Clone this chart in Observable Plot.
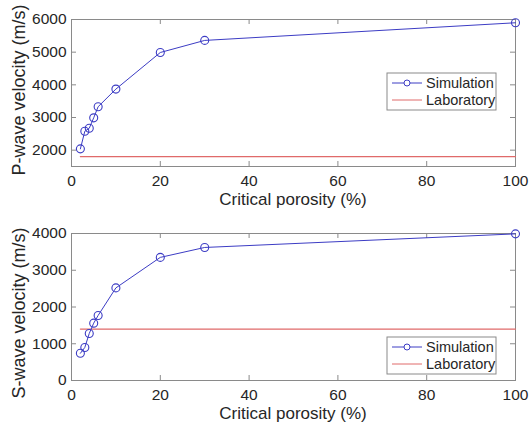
<!DOCTYPE html>
<html>
<head>
<meta charset="utf-8">
<script src="https://cdn.jsdelivr.net/npm/d3@7"></script>
<script src="https://cdn.jsdelivr.net/npm/@observablehq/plot@0.6"></script>
<style>
  html, body { margin: 0; padding: 0; background: #fff; }
  #chart { position: relative; width: 531px; height: 424px; font-family: "Liberation Sans", Arial, sans-serif; }
  #chart svg { position: absolute; left: 0; }
</style>
</head>
<body>
<div id="chart"></div>
<script>
// Data
const porosity = [2, 3, 4, 5, 6, 10, 20, 30, 100];
const pVelocitySim = [2040, 2580, 2670, 2990, 3330, 3870, 4990, 5360, 5900];
const pVelocityLab = 1800;
const sVelocitySim = [740, 900, 1280, 1560, 1770, 2520, 3350, 3620, 3990];
const sVelocityLab = 1400;
const xTicks = [0, 20, 40, 60, 80, 100];
const pTicks = [2000, 3000, 4000, 5000, 6000];
const sTicks = [0, 1000, 2000, 3000, 4000];
const legendLabels = ["Simulation", "Laboratory"];

const blue = "#3c3cc4";
const red = "#e06a6a";
const frameColor = "#8a8a8a";
const textColor = "#262626";

function panel({sim, lab, yDomain, yTicks, yLabel, top, marginTop, marginBottom, legendY, yLabelCenter}) {
  const W = 531, H = 212;
  const mL = 71, mR = 16;
  const plotH = H - marginTop - marginBottom;
  const plotW = W - mL - mR;
  const rows = porosity.map((x, i) => ({x, y: sim[i]}));
  const labRows = [{x: porosity[0], y: lab}, {x: 100, y: lab}];
  const svg = Plot.plot({
    width: W, height: H,
    marginLeft: mL, marginRight: mR, marginTop, marginBottom,
    style: {fontFamily: '"Liberation Sans", Arial, sans-serif', color: textColor, background: "#fff"},
    x: {domain: [0, 100]},
    y: {domain: yDomain},
    marks: [
      // tick labels
      Plot.axisX(xTicks, {tickSize: 0, tickPadding: 8, fontSize: 15.5, fill: textColor, label: null, tickFormat: d3.format("d")}),
      Plot.axisY(yTicks, {tickSize: 0, tickPadding: 5, fontSize: 15.5, fill: textColor, label: null, tickFormat: d3.format("d")}),
      // inward ticks
      Plot.tickX(xTicks, {x: d => d, insetTop: plotH - 5, stroke: frameColor}),
      Plot.tickX(xTicks, {x: d => d, insetBottom: plotH - 5, stroke: frameColor}),
      Plot.tickY(yTicks, {y: d => d, insetRight: plotW - 5, stroke: frameColor}),
      Plot.tickY(yTicks, {y: d => d, insetLeft: plotW - 5, stroke: frameColor}),
      Plot.frame({stroke: frameColor}),
      Plot.line(labRows, {x: "x", y: "y", stroke: red, strokeWidth: 1.2}),
      Plot.line(rows, {x: "x", y: "y", stroke: blue, strokeWidth: 1}),
      Plot.dot(rows, {x: "x", y: "y", r: 4, stroke: blue, strokeWidth: 1.1, fill: "none"})
    ]
  });
  svg.style.top = top + "px";
  const ns = "http://www.w3.org/2000/svg";
  // axis labels
  const xl = document.createElementNS(ns, "text");
  xl.setAttribute("x", mL + plotW / 2);
  xl.setAttribute("y", H - marginBottom + 39);
  xl.setAttribute("text-anchor", "middle");
  xl.setAttribute("font-size", 17);
  xl.setAttribute("fill", textColor);
  xl.textContent = "Critical porosity (%)";
  svg.appendChild(xl);
  const yl = document.createElementNS(ns, "text");
  yl.setAttribute("transform", `translate(25,${yLabelCenter}) rotate(-90)`);
  yl.setAttribute("text-anchor", "middle");
  yl.setAttribute("font-size", 18);
  yl.setAttribute("fill", textColor);
  yl.textContent = yLabel;
  svg.appendChild(yl);
  // legend
  const g = document.createElementNS(ns, "g");
  const lx = 387, lw = 109, lh = 37;
  const rect = document.createElementNS(ns, "rect");
  rect.setAttribute("x", lx); rect.setAttribute("y", legendY);
  rect.setAttribute("width", lw); rect.setAttribute("height", lh);
  rect.setAttribute("fill", "#fff"); rect.setAttribute("stroke", frameColor);
  g.appendChild(rect);
  legendLabels.forEach((lab, i) => {
    const cy = legendY + 10 + i * 17;
    const ln = document.createElementNS(ns, "line");
    ln.setAttribute("x1", lx + 5); ln.setAttribute("x2", lx + 35);
    ln.setAttribute("y1", cy); ln.setAttribute("y2", cy);
    ln.setAttribute("stroke", i === 0 ? blue : red);
    g.appendChild(ln);
    if (i === 0) {
      const c = document.createElementNS(ns, "circle");
      c.setAttribute("cx", lx + 20); c.setAttribute("cy", cy); c.setAttribute("r", 3);
      c.setAttribute("fill", "#fff"); c.setAttribute("stroke", blue);
      g.appendChild(c);
    }
    const t = document.createElementNS(ns, "text");
    t.setAttribute("x", lx + 39); t.setAttribute("y", cy + 5);
    t.setAttribute("text-anchor", "start");
    t.setAttribute("font-size", 14.5); t.setAttribute("fill", textColor);
    t.textContent = lab;
    g.appendChild(t);
  });
  svg.appendChild(g);
  return svg;
}

const chart = document.getElementById("chart");
chart.appendChild(panel({sim: pVelocitySim, lab: pVelocityLab, yDomain: [1500, 6000], yTicks: pTicks,
  yLabel: "P-wave velocity (m/s)", top: 0, marginTop: 19, marginBottom: 46, legendY: 73, yLabelCenter: 90}));
chart.appendChild(panel({sim: sVelocitySim, lab: sVelocityLab, yDomain: [0, 4000], yTicks: sTicks,
  yLabel: "S-wave velocity (m/s)", top: 212, marginTop: 21, marginBottom: 44, legendY: 125, yLabelCenter: 101}));
</script>
</body>
</html>
